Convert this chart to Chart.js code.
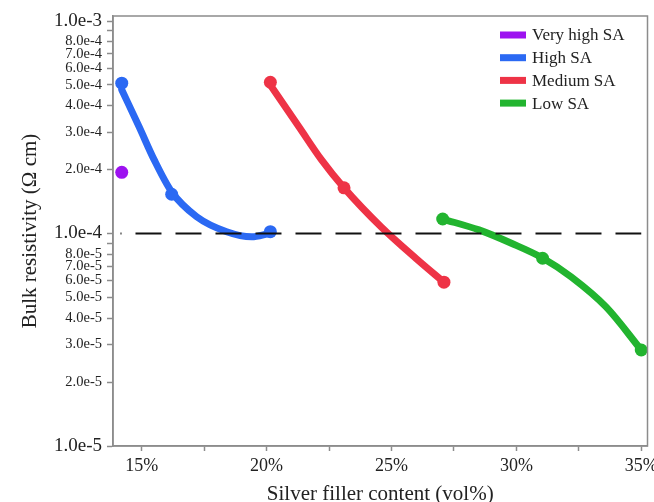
<!DOCTYPE html>
<html lang="en">
<head>
<meta charset="UTF-8">
<title>Bulk resistivity vs silver filler content</title>
<script src="https://cdn.jsdelivr.net/npm/chart.js"></script>
<style>
    html, body { margin: 0; padding: 0; background: #fff; }
    #wrap { width: 654px; height: 502px; }
</style>
</head>
<body>
<div id="wrap"><canvas id="myChart" width="654" height="502"></canvas></div>

<script>
// series names and colours (legend order)
var seriesNames = ['Very high SA', 'High SA', 'Medium SA', 'Low SA'];
var seriesColors = ['#9d12f0', '#2b69f3', '#ee3346', '#22b42f'];

// measured points (vol% , ohm cm)
var veryHighX = [14.2];
var veryHighY = [1.94e-4];
var highX = [14.2, 16.2, 20.15];
var highY = [5.1e-4, 1.53e-4, 1.02e-4];
var mediumX = [20.15, 23.1, 27.1];
var mediumY = [5.15e-4, 1.64e-4, 5.9e-5];
var lowX = [27.05, 31.05, 35.0];
var lowY = [1.17e-4, 7.65e-5, 2.83e-5];

// fitted trend curves
var highFitX = [14.2, 14.9, 15.5, 16.2, 17.2, 18.4, 19.4, 20.1];
var highFitY = [4.75e-4, 3.17e-4, 2.22e-4, 1.57e-4, 1.2e-4, 1.02e-4, 9.65e-5, 1.0e-4];
var mediumFitX = [20.15, 21.3, 22.2, 23.1, 24.6, 26.0, 27.1];
var mediumFitY = [5.0e-4, 3.17e-4, 2.22e-4, 1.64e-4, 1.07e-4, 7.6e-5, 5.9e-5];
var lowFitX = [27.05, 28.5, 29.8, 31.05, 32.2, 33.6, 35.0];
var lowFitY = [1.17e-4, 1.04e-4, 9.0e-5, 7.67e-5, 6.24e-5, 4.5e-5, 2.83e-5];

// reference line
var refX = [14.15, 35.0];
var refY = [1.0e-4, 1.0e-4];

// axis ticks
var xTickValues = [15, 17.5, 20, 22.5, 25, 27.5, 30, 32.5, 35];
var yTickValues = [1e-5, 2e-5, 3e-5, 4e-5, 5e-5, 6e-5, 7e-5, 8e-5, 9e-5,
                   1e-4, 2e-4, 3e-4, 4e-4, 5e-4, 6e-4, 7e-4, 8e-4, 9e-4, 1e-3];
var yTickLabels = ['1.0e-5', '2.0e-5', '3.0e-5', '4.0e-5', '5.0e-5', '6.0e-5', '7.0e-5', '8.0e-5', '',
                   '1.0e-4', '2.0e-4', '3.0e-4', '4.0e-4', '5.0e-4', '6.0e-4', '7.0e-4', '8.0e-4', '', '1.0e-3'];

function pts(xs, ys) {
    return xs.map(function(x, i) { return {x: x, y: ys[i]}; });
}

var serif = "'Liberation Serif', 'Times New Roman', serif";
var axisGray = '#8c8c8c';

// frame round the plot area
var framePlugin = {
    id: 'frame',
    afterDatasetsDraw: function(chart) {
        var a = chart.chartArea, c = chart.ctx;
        c.save();
        c.strokeStyle = axisGray;
        c.lineWidth = 1.5;
        c.strokeRect(a.left, a.top, a.right - a.left, a.bottom - a.top);
        c.restore();
    }
};

// legend drawn inside the top right corner
var legendPlugin = {
    id: 'insideLegend',
    afterDraw: function(chart) {
        var c = chart.ctx;
        c.save();
        c.font = '17px ' + serif;
        c.textBaseline = 'middle';
        c.textAlign = 'left';
        for (var i = 0; i < seriesNames.length; i++) {
            var y = 35 + i * 22.7;
            c.fillStyle = seriesColors[i];
            c.fillRect(500, y - 3.5, 26, 7);
            c.fillStyle = '#222';
            c.fillText(seriesNames[i], 532, y + 1);
        }
        c.restore();
    }
};

function fitSet(xs, ys, color) {
    return {
        type: 'line', data: pts(xs, ys), borderColor: color, borderWidth: 7,
        borderCapStyle: 'round', borderJoinStyle: 'round',
        pointRadius: 0, cubicInterpolationMode: 'monotone', fill: false, order: 3
    };
}
function markSet(xs, ys, color) {
    return {
        type: 'scatter', data: pts(xs, ys), backgroundColor: color, borderColor: color,
        pointRadius: 6.5, pointHoverRadius: 6.5, borderWidth: 0, showLine: false, order: 2
    };
}

var ctx = document.getElementById('myChart').getContext('2d');
var myChart = new Chart(ctx, {
    type: 'scatter',
    data: {
        datasets: [
            fitSet(highFitX, highFitY, seriesColors[1]),
            fitSet(mediumFitX, mediumFitY, seriesColors[2]),
            fitSet(lowFitX, lowFitY, seriesColors[3]),
            markSet(veryHighX, veryHighY, seriesColors[0]),
            markSet(highX, highY, seriesColors[1]),
            markSet(mediumX, mediumY, seriesColors[2]),
            markSet(lowX, lowY, seriesColors[3]),
            {
                type: 'line', data: pts(refX, refY), borderColor: '#111', borderWidth: 2,
                borderDash: [26, 14], borderDashOffset: 25, pointRadius: 0, order: 1
            }
        ]
    },
    options: {
        responsive: false,
        animation: false,
        layout: { padding: { top: 16, right: 6, left: 0, bottom: 0 } },
        plugins: { legend: { display: false }, tooltip: { enabled: false } },
        scales: {
            x: {
                type: 'linear', min: 13.85, max: 35.25,
                afterBuildTicks: function(s) { s.ticks = xTickValues.map(function(v) { return {value: v}; }); },
                afterFit: function(s) { s.height = 56; s.paddingLeft = 0; s.paddingRight = 0; },
                grid: { drawOnChartArea: false, color: axisGray, tickLength: 5, tickWidth: 1.5 },
                border: { color: axisGray, width: 1.5 },
                ticks: {
                    autoSkip: false, maxRotation: 0, padding: 4, color: '#222',
                    font: { family: serif, size: 18 },
                    callback: function(v) { return v % 5 === 0 ? v + '%' : ''; }
                },
                title: {
                    display: true, text: 'Silver filler content (vol%)', color: '#222',
                    font: { family: serif, size: 21, lineHeight: 1 }, padding: { top: 0, bottom: -3 }
                }
            },
            y: {
                type: 'logarithmic', min: 1e-5, max: 1.056e-3,
                afterBuildTicks: function(s) { s.ticks = yTickValues.map(function(v) { return {value: v}; }); },
                afterFit: function(s) { s.width = 113; s.paddingTop = 0; s.paddingBottom = 0; },
                grid: { drawOnChartArea: false, color: axisGray, tickLength: 6, tickWidth: 1.5 },
                border: { color: axisGray, width: 1.5 },
                ticks: {
                    autoSkip: false, padding: 5, color: '#222',
                    font: function(c) {
                        var v = c.tick ? c.tick.value : 0;
                        var dec = Math.abs(Math.log10(v) - Math.round(Math.log10(v))) < 1e-6;
                        return { family: serif, size: dec ? 19 : 14.5 };
                    },
                    callback: function(v, i) { return yTickLabels[yTickValues.indexOf(v)] || ''; }
                },
                title: {
                    display: true, text: 'Bulk resistivity (Ω cm)', color: '#222',
                    font: { family: serif, size: 21, lineHeight: 1 }, padding: { top: 20, bottom: 0 }
                }
            }
        }
    },
    plugins: [framePlugin, legendPlugin]
});
</script>
</body>
</html>
